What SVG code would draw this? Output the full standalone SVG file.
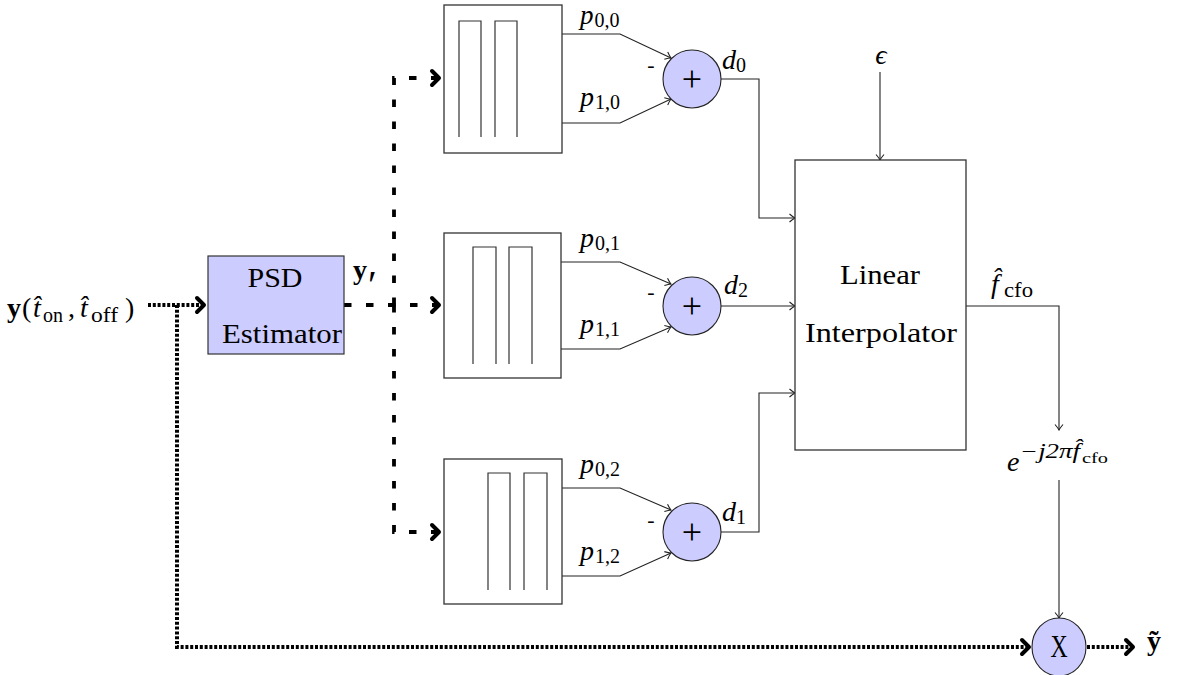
<svg xmlns="http://www.w3.org/2000/svg" width="1179" height="675" viewBox="0 0 1179 675">
<style>
.box{fill:#fff;stroke:#333;stroke-width:1.3}
.inner{fill:none;stroke:#333;stroke-width:1.2}
.psd{fill:#ccccff;stroke:#333;stroke-width:1.2}
.sum{fill:#ccccff;stroke:#222;stroke-width:1.1}
.thin{fill:none;stroke:#222;stroke-width:1.1}
.dotted{fill:none;stroke:#000;stroke-width:4;stroke-dasharray:3 1.8}
.dashed{fill:none;stroke:#000;stroke-width:3.8;stroke-dasharray:7.5 14.5}
.t{font-family:'Liberation Serif','Times New Roman',serif;fill:#000;font-size:28px}
.m{font-style:italic}
.n{font-style:normal}
.b{font-weight:bold}
.sub{font-size:20px}
.s15{font-size:15px}
.plus{font-size:36px}
.mid{text-anchor:middle}
</style>
<defs>
<marker id="ah" viewBox="-7 -5 8 10" refX="0" refY="0" markerWidth="8" markerHeight="10" markerUnits="userSpaceOnUse" orient="auto">
<path d="M-5.5,-4 Q-2,-1 0,0 Q-2,1 -5.5,4" fill="none" stroke="#222" stroke-width="1.1"/>
</marker>
<marker id="ahb" viewBox="-12 -10 14 20" refX="0" refY="0" markerWidth="14" markerHeight="20" markerUnits="userSpaceOnUse" orient="auto">
<path d="M-8,-7 L-1,0 L-8,7" fill="none" stroke="#000" stroke-width="4" stroke-linecap="round" stroke-linejoin="round"/>
</marker>
</defs>

<g id="connectors">
<path class="dotted" d="M148,305 H205" marker-end="url(#ahb)"/>
<path class="dotted" d="M177,305 V647 H1030" marker-end="url(#ahb)"/>
<path class="dotted" d="M1087,647 H1134" marker-end="url(#ahb)"/>
<path class="dashed" d="M344,305 H440" marker-end="url(#ahb)"/>
<path class="dashed" d="M394,305 V78 H440" marker-end="url(#ahb)"/>
<path class="dashed" d="M394,305 V532 H440" marker-end="url(#ahb)"/>
<path class="thin" d="M562,34 H620 L671,58" marker-end="url(#ah)"/>
<path class="thin" d="M562,123 H620 L671,99" marker-end="url(#ah)"/>
<path class="thin" d="M561,262 H620 L671,284" marker-end="url(#ah)"/>
<path class="thin" d="M561,349 H620 L671,327" marker-end="url(#ah)"/>
<path class="thin" d="M562,488 H620 L671,510" marker-end="url(#ah)"/>
<path class="thin" d="M562,576 H620 L671,553" marker-end="url(#ah)"/>
<path class="thin" d="M721,79 H759 V218 H795" marker-end="url(#ah)"/>
<path class="thin" d="M721,306 H795" marker-end="url(#ah)"/>
<path class="thin" d="M721,532 H759 V393 H795" marker-end="url(#ah)"/>
<path class="thin" d="M880,72 V160" marker-end="url(#ah)"/>
<path class="thin" d="M966,306 H1059 V430" marker-end="url(#ah)"/>
<path class="thin" d="M1059,480 V618" marker-end="url(#ah)"/>
</g>

<g id="input-label">
<text class="t" x="7" y="317"><tspan class="b">y</tspan><tspan x="22" y="317">(</tspan><tspan class="m" x="33" y="317">t̂</tspan><tspan class="sub" x="43" y="322">on</tspan><tspan x="68" y="317">,</tspan><tspan class="m" x="80" y="317">t̂</tspan><tspan class="sub" x="91" y="322" textLength="27" lengthAdjust="spacingAndGlyphs">off</tspan><tspan x="125" y="317">)</tspan></text>
</g>

<g id="psd">
<rect class="psd" x="208" y="256" width="136" height="98"/>
<text class="t mid" x="275" y="287" textLength="55" lengthAdjust="spacingAndGlyphs">PSD</text>
<text class="t" x="222" y="343" textLength="120" lengthAdjust="spacingAndGlyphs">Estimator</text>
</g>
<g id="yprime-label">
<text class="t b" x="353" y="279">y<tspan class="n" x="368" y="298" style="font-weight:normal;font-size:40px">′</tspan></text>
</g>

<g id="filter0">
<rect class="box" x="444" y="5" width="118" height="148"/>
<path class="inner" d="M459,137 V21 H481 V137 M495,137 V21 H517 V137"/>
</g>
<g id="filter1">
<rect class="box" x="444" y="233" width="117" height="145"/>
<path class="inner" d="M473,364 V247 H496 V364 M509,364 V247 H532 V364"/>
</g>
<g id="filter2">
<rect class="box" x="444" y="459" width="118" height="145"/>
<path class="inner" d="M488,590 V473 H510 V590 M524,590 V473 H547 V590"/>
</g>

<g id="labels-p">
<text class="t m" x="580" y="24" style="font-size:27px">p<tspan class="sub n" dx="1" dy="3">0,0</tspan></text>
<text class="t m" x="580" y="106">p<tspan class="sub n" dx="1" dy="3">1,0</tspan></text>
<text class="t m" x="580" y="247">p<tspan class="sub n" dx="1" dy="3">0,1</tspan></text>
<text class="t m" x="580" y="333">p<tspan class="sub n" dx="1" dy="3">1,1</tspan></text>
<text class="t m" x="580" y="473">p<tspan class="sub n" dx="1" dy="3">0,2</tspan></text>
<text class="t m" x="580" y="560">p<tspan class="sub n" dx="1" dy="3">1,2</tspan></text>
</g>

<g id="sum0">
<circle class="sum" cx="692" cy="79" r="29"/>
<text class="t plus mid" x="692" y="91">+</text>
<text class="t mid" x="651" y="72" style="font-size:22px">-</text>
<text class="t m" x="722" y="69">d<tspan class="sub n" dy="3">0</tspan></text>
</g>
<g id="sum1">
<circle class="sum" cx="692" cy="306" r="29"/>
<text class="t plus mid" x="692" y="318">+</text>
<text class="t mid" x="651" y="299" style="font-size:22px">-</text>
<text class="t m" x="724" y="294">d<tspan class="sub n" dy="3">2</tspan></text>
</g>
<g id="sum2">
<circle class="sum" cx="692" cy="532" r="29"/>
<text class="t plus mid" x="692" y="544">+</text>
<text class="t mid" x="651" y="527" style="font-size:22px">-</text>
<text class="t m" x="722" y="521">d<tspan class="sub n" dy="3">1</tspan></text>
</g>

<g id="interpolator">
<rect class="box" x="795" y="160" width="171" height="290"/>
<text class="t mid" x="880" y="284" textLength="80" lengthAdjust="spacingAndGlyphs">Linear</text>
<text class="t mid" x="881" y="342" textLength="152" lengthAdjust="spacingAndGlyphs">Interpolator</text>
</g>

<g id="epsilon-label">
<text class="t m mid" x="881" y="64">ϵ</text>
</g>

<g id="fcfo-label">
<text class="t m" x="991" y="293">f̂<tspan class="sub n" x="1004" y="297" textLength="29" lengthAdjust="spacingAndGlyphs">cfo</tspan></text>
</g>

<g id="exp-label">
<text class="t m" x="1007" y="471">e<tspan class="sub" x="1020" y="458" textLength="60" lengthAdjust="spacingAndGlyphs">−j2πf̂</tspan><tspan class="s15 n" x="1082" y="463" textLength="26" lengthAdjust="spacingAndGlyphs">cfo</tspan></text>
</g>

<g id="mult">
<ellipse class="sum" cx="1059" cy="647" rx="27" ry="29"/>
<text class="t mid" transform="translate(1059,657) scale(0.85,1.15)">X</text>
</g>

<g id="output-label">
<text class="t b" x="1147" y="650">ỹ</text>
</g>
</svg>
